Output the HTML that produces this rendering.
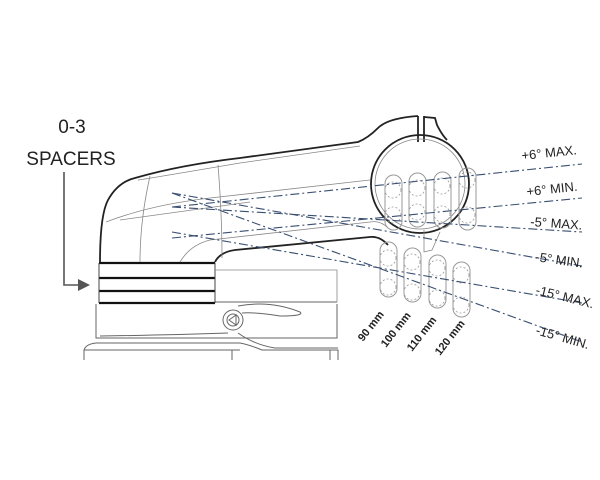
<!DOCTYPE html>
<html><head><style>
html,body{margin:0;padding:0;background:#fff;width:600px;height:480px;overflow:hidden}
svg{display:block}
text{font-family:"Liberation Sans",sans-serif;fill:#222}
</style></head><body>
<svg width="600" height="480" viewBox="0 0 600 480" xmlns="http://www.w3.org/2000/svg">
<!-- label -->
<text x="72" y="133" font-size="19" text-anchor="middle">0-3</text>
<text x="71" y="165" font-size="19" text-anchor="middle">SPACERS</text>
<path d="M64 172 V285 H80" fill="none" stroke="#555" stroke-width="1.6"/>
<polygon points="90,285 78,279 78,291" fill="#555"/>

<!-- base -->
<g fill="none" stroke="#666" stroke-width="1">
<path d="M96 304 V338 H337 V304"/>
<path d="M215 302 H337"/>
<path d="M84 360 V350 Q86 344 96 343 H240 Q250 345 262 350 H338 V360"/>
<path d="M84 350 H240"/>
<path d="M228 333 Q170 335 100 336"/>
<path d="M238 306 Q270 300 300 312 Q305 316 280 316 Q255 312 242 313"/>
<path d="M238 333 Q255 345 275 348 H338"/>
<circle cx="233" cy="320" r="10"/>
<circle cx="233" cy="320" r="6"/>
<polygon points="229,320 236,315 236,325"/>
<path d="M232 350 V360 M330 350 V360"/>
</g>

<!-- spacers -->
<g stroke="#111" stroke-width="2.2">
<line x1="99" y1="263" x2="215" y2="263"/>
<line x1="99" y1="278" x2="215" y2="278"/>
<line x1="99" y1="291" x2="215" y2="291"/>
<line x1="99" y1="303" x2="215" y2="303"/>
</g>
<path d="M99 263 V303 M215 263 V303" stroke="#444" stroke-width="1"/>

<!-- stem body -->
<g fill="none" stroke="#222" stroke-width="1.8">
<path d="M100 262 Q100 215 108 200 Q118 182 135 178 Q180 165 240 158 L358 142 Q368 138 378 128 Q388 118 418 116"/>
<path d="M418 116 V142"/>
<path d="M424 116 V142"/>
<path d="M424 117 L435 118 L437 125 Q442 135 447 140"/>
<path d="M215 262 Q220 252 235 250 L370 237 Q380 236 388 245"/>
<circle cx="420" cy="184" r="49"/>
</g>
<g fill="none" stroke="#888" stroke-width="0.8">
<circle cx="420" cy="184" r="45"/>
<path d="M106 222 Q150 205 210 198 L370 180"/>
<path d="M120 220 L250 202"/>
<path d="M138 180 Q140 180 240 163 L360 146"/>
<path d="M150 176 Q140 220 140 262"/>
<path d="M218 165 Q222 215 222 258"/>
<path d="M180 262 Q190 245 210 240 L370 222 Q380 220 388 228"/>
<path d="M215 270 H337 V302"/>
<path d="M424 230 V252 L432 250 L440 232"/>
</g>

<!-- capsules -->
<g fill="none" stroke="#999" stroke-width="1">
<rect x="385" y="175" width="17" height="55" rx="8.5"/>
<rect x="380" y="242" width="17" height="55" rx="8.5"/>
<rect x="409" y="173" width="17" height="54" rx="8.5"/>
<rect x="404" y="248" width="17" height="54" rx="8.5"/>
<rect x="434" y="172" width="17" height="56" rx="8.5"/>
<rect x="429" y="255" width="17" height="53" rx="8.5"/>
<rect x="459" y="168" width="17" height="62" rx="8.5"/>
<rect x="453" y="262" width="17" height="55" rx="8.5"/>
</g>
<g fill="none" stroke="#999" stroke-width="0.8" stroke-dasharray="2,2">
<circle cx="393" cy="190" r="8"/><circle cx="393" cy="215" r="8"/>
<circle cx="388" cy="258" r="8"/><circle cx="388" cy="287" r="8"/>
<circle cx="417" cy="188" r="8"/><circle cx="417" cy="212" r="8"/>
<circle cx="412" cy="262" r="8"/><circle cx="412" cy="292" r="8"/>
<circle cx="442" cy="186" r="8"/><circle cx="442" cy="214" r="8"/>
<circle cx="437" cy="268" r="8"/><circle cx="437" cy="298" r="8"/>
<circle cx="467" cy="180" r="8"/><circle cx="467" cy="215" r="8"/>
<circle cx="461" cy="275" r="8"/><circle cx="461" cy="305" r="8"/>
</g>

<!-- dash-dot lines -->
<g stroke="#3a4f70" stroke-width="1.1" stroke-dasharray="9,3,2,3" fill="none">
<line x1="172" y1="207" x2="582" y2="164"/>
<line x1="172" y1="238" x2="582" y2="198"/>
<line x1="172" y1="207" x2="582" y2="232"/>
<line x1="172" y1="193" x2="582" y2="266"/>
<line x1="172" y1="232" x2="582" y2="303"/>
<line x1="172" y1="193" x2="582" y2="342"/>
</g>

<!-- right labels -->
<g font-size="13">
<text x="522" y="160" transform="rotate(-6 522 160)">+6° MAX.</text>
<text x="527" y="196" transform="rotate(-6 527 196)">+6° MIN.</text>
<text x="530" y="226" transform="rotate(4 530 226)">-5° MAX.</text>
<text x="535" y="261" transform="rotate(8 535 261)">-5° MIN.</text>
<text x="535" y="294" transform="rotate(14 535 294)">-15° MAX.</text>
<text x="535" y="334" transform="rotate(16 535 334)">-15° MIN.</text>
</g>
<g font-size="11" font-weight="bold">
<text x="363" y="342" transform="rotate(-52 363 342)">90 mm</text>
<text x="386" y="348" transform="rotate(-52 386 348)">100 mm</text>
<text x="412" y="352" transform="rotate(-52 412 352)">110 mm</text>
<text x="440" y="356" transform="rotate(-52 440 356)">120 mm</text>
</g>
</svg>
</body></html>
